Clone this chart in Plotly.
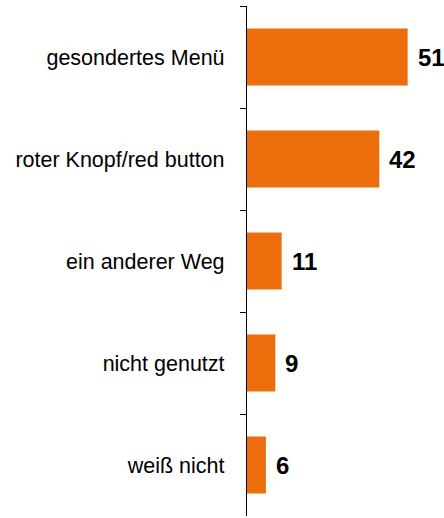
import plotly.graph_objects as go

categories = ["gesondertes Menü", "roter Knopf/red button", "ein anderer Weg", "nicht genutzt", "weiß nicht"]
values = [51, 42, 11, 9, 6]
bar_color = "#EB6D0C"

fig = go.Figure()
fig.add_trace(go.Bar(
    x=values, y=categories, orientation="h",
    marker=dict(color=bar_color, line=dict(width=0)),
    width=0.56, hoverinfo="skip",
))

for c, v in zip(categories, values):
    fig.add_annotation(
        x=v, y=c, text=f"<b>{v}</b>", showarrow=False,
        xanchor="left", yanchor="middle", xshift=8,
        font=dict(family="Liberation Sans, Arial, sans-serif", size=24, color="#000000"),
    )

fig.update_layout(
    width=444, height=518,
    margin=dict(l=247, r=2, t=6, b=2, autoexpand=False),
    paper_bgcolor="white", plot_bgcolor="white",
    showlegend=False,
    font=dict(family="Liberation Sans, Arial, sans-serif", color="#000000"),
)
fig.update_xaxes(range=[0, 61.9], visible=False, fixedrange=True, automargin=False)
fig.update_yaxes(
    range=[4.5, -0.5], type="category", automargin=False, fixedrange=True,
    showline=True, linecolor="#000000", linewidth=1.3,
    ticks="outside", ticklen=6, tickcolor="#000000", tickwidth=1.3,
    tickson="boundaries", showgrid=False, zeroline=False,
    tickfont=dict(size=21.5, color="#000000"),
    ticklabelstandoff=17,
)

fig.write_html(
    "out.html",
    config={"displayModeBar": False},
    post_script="document.body.style.margin='0';document.body.style.overflow='hidden';",
)
